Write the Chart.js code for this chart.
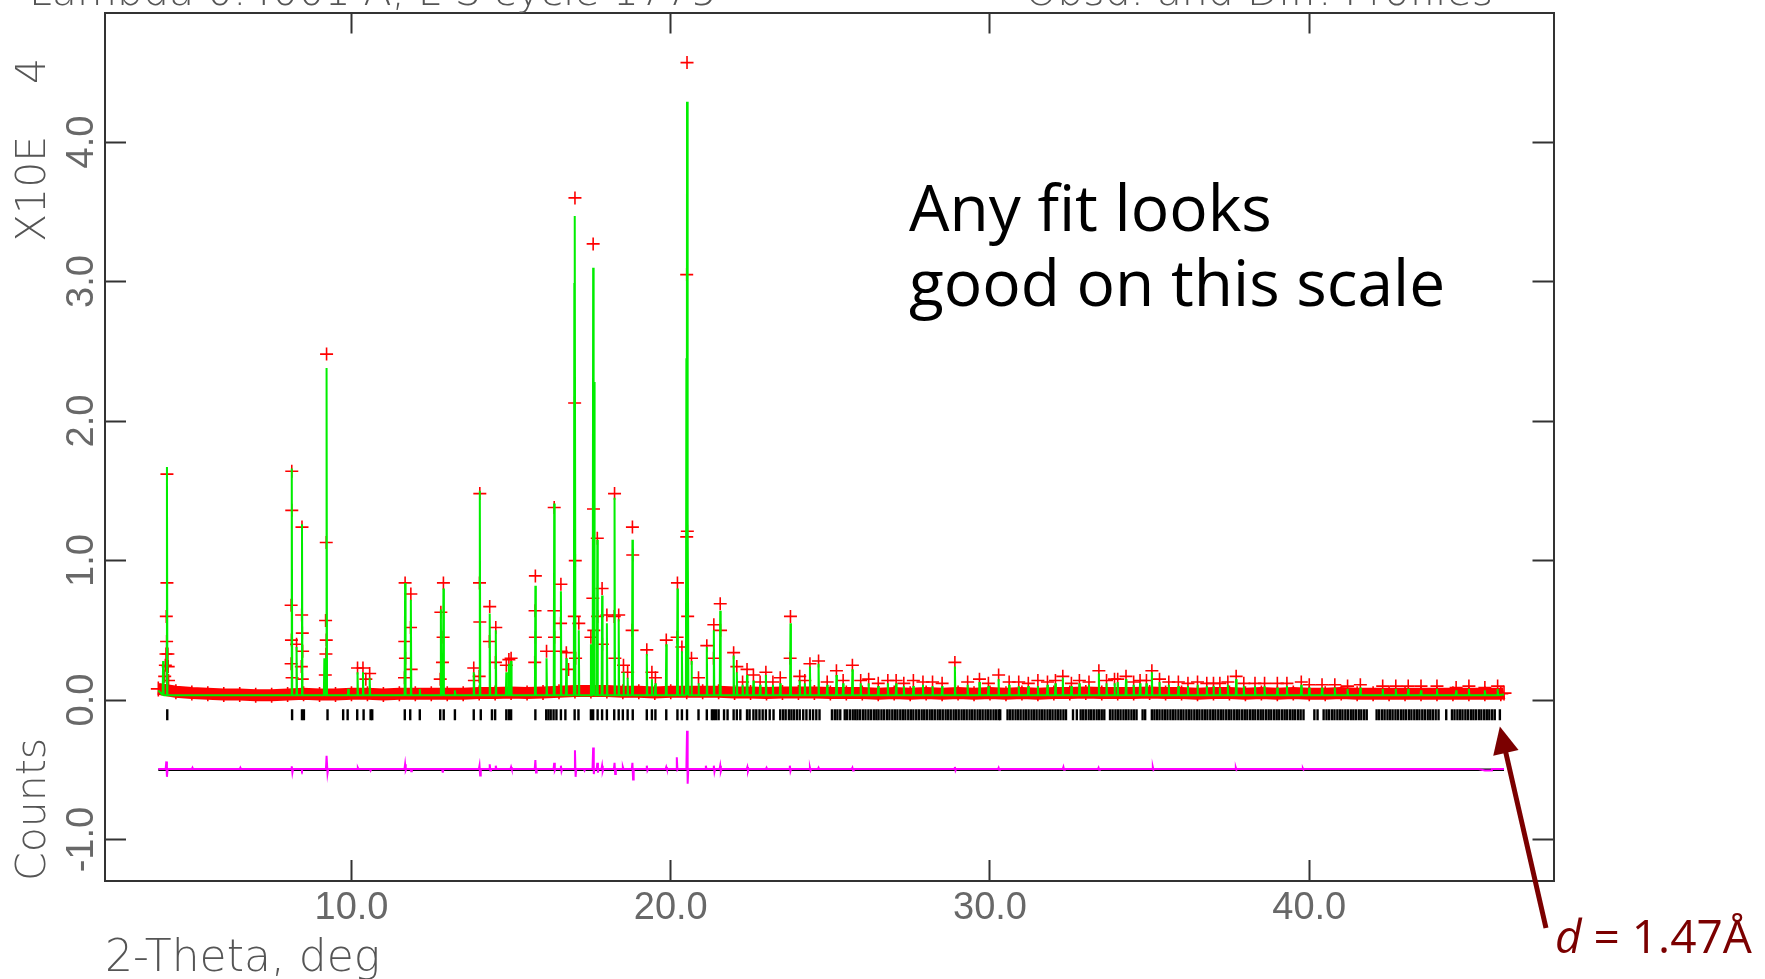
<!DOCTYPE html>
<html><head><meta charset="utf-8">
<script src="https://cdn.jsdelivr.net/npm/chart.js@4.4.1/dist/chart.umd.min.js"></script>
<style>html,body{margin:0;padding:0;background:#fff;overflow:hidden}canvas{display:block}</style>
</head><body>
<canvas id="c" width="1765" height="979"></canvas>
<script>
// ---------------- data (intensities in units of 10^4 counts) ----------------
const xTickValues = [10, 20, 30, 40];
const yTickValues = [-1, 0, 1, 2, 3, 4];

// observed points forming the dense background band [2-theta, counts]
const bandObs = [[3.95,0.08],[4.5,0.06],[5.0,0.05],[5.5,0.045],[6.0,0.04],[6.5,0.04],[7.0,0.035],[7.5,0.035],[8.0,0.04],[8.5,0.045],[9.0,0.04],[9.5,0.04],[10.0,0.045],[10.5,0.045],[11.0,0.04],[11.5,0.045],[12.0,0.045],[12.5,0.045],[13.0,0.045],[13.5,0.045],[14.0,0.05],[14.5,0.05],[15.0,0.055],[15.5,0.05],[16.0,0.055],[16.5,0.06],[17.0,0.065],[17.5,0.065],[18.0,0.065],[18.5,0.06],[19.0,0.06],[19.5,0.055],[20.0,0.06],[20.5,0.06],[21.0,0.06],[21.5,0.06],[22.0,0.055],[22.5,0.055],[23.0,0.05],[23.5,0.055],[24.0,0.055],[24.5,0.055],[25.0,0.05],[25.5,0.05],[26.0,0.05],[26.5,0.045],[27.0,0.05],[27.5,0.045],[28.0,0.05],[28.5,0.045],[29.0,0.05],[29.5,0.045],[30.0,0.05],[30.5,0.045],[31.0,0.05],[31.5,0.045],[32.0,0.05],[32.5,0.05],[33.0,0.055],[33.5,0.05],[34.0,0.05],[34.5,0.05],[35.0,0.055],[35.5,0.05],[36.0,0.05],[36.5,0.045],[37.0,0.05],[37.5,0.05],[38.0,0.045],[38.5,0.05],[39.0,0.045],[39.5,0.05],[40.0,0.045],[40.5,0.045],[41.0,0.05],[41.5,0.045],[42.0,0.045],[42.5,0.045],[43.0,0.045],[43.5,0.045],[44.0,0.045],[44.5,0.045],[45.0,0.045],[45.5,0.045],[46.0,0.045],[46.1,0.05]];

// observed points on the Bragg peaks [2-theta, counts]
const obsPeaks = [[4.22,1.62],[4.22,0.84],[4.20,0.60],[4.21,0.42],[4.19,0.33],[4.25,0.33],[4.17,0.25],[4.26,0.24],[4.15,0.17],[4.27,0.14],
[8.13,1.64],[8.13,1.36],[8.11,0.68],[8.12,0.43],[8.11,0.26],[8.14,0.16],[8.28,0.40],
[8.45,1.24],[8.44,0.61],[8.46,0.48],[8.47,0.35],[8.43,0.24],[8.46,0.15],
[9.22,2.48],[9.21,1.13],[9.19,0.57],[9.21,0.43],[9.20,0.33],[9.18,0.18],
[10.19,0.23],[10.36,0.23],[10.57,0.19],[10.45,0.15],
[11.68,0.84],[11.67,0.42],[11.69,0.30],[11.66,0.16],[11.86,0.76],[11.85,0.52],[11.87,0.22],
[12.80,0.63],[12.88,0.84],[12.87,0.45],[12.85,0.27],[12.78,0.15],[13.83,0.23],[13.85,0.14],
[14.02,1.48],[14.01,0.84],[14.02,0.56],[14.00,0.17],[14.33,0.67],[14.32,0.42],[14.52,0.52],[14.51,0.27],
[14.85,0.25],[14.93,0.29],[15.00,0.30],[15.76,0.89],[15.75,0.64],[15.76,0.45],[15.74,0.27],
[16.11,0.35],[16.35,1.38],[16.34,0.64],[16.36,0.45],[16.56,0.83],[16.55,0.55],[16.57,0.35],[16.73,0.34],[16.80,0.22],
[17.00,3.60],[16.99,2.13],[17.01,1.00],[16.98,0.60],[17.02,0.30],[17.12,0.55],[17.50,0.45],
[17.57,3.27],[17.58,1.37],[17.56,0.73],[17.59,0.50],[17.70,1.16],[17.71,0.60],[17.85,0.80],[17.86,0.40],
[18.00,0.61],[18.24,1.48],[18.23,0.60],[18.25,0.30],[18.37,0.61],[18.52,0.25],[18.65,0.20],
[18.80,1.24],[18.81,1.04],[18.79,0.50],[19.25,0.36],[19.41,0.20],[19.52,0.16],
[19.86,0.43],[20.21,0.84],[20.20,0.45],[20.35,0.38],
[20.51,4.57],[20.50,3.05],[20.52,1.21],[20.50,1.17],[20.53,0.60],
[20.65,0.30],[20.87,0.16],[21.13,0.39],[21.35,0.54],[21.34,0.30],[21.55,0.69],[21.56,0.50],
[21.97,0.34],[22.07,0.24],[22.25,0.13],[22.39,0.22],[22.59,0.18],[22.80,0.13],[22.98,0.20],[23.20,0.13],[23.43,0.16],
[23.75,0.60],[23.74,0.30],[24.04,0.17],[24.20,0.14],[24.36,0.26],[24.63,0.28],[24.90,0.13],[25.19,0.21],[25.40,0.14],
[25.69,0.25],[25.95,0.14],[26.20,0.15],[26.50,0.12],[26.80,0.14],[27.06,0.14],[27.30,0.12],[27.60,0.14],[27.90,0.13],
[28.20,0.13],[28.50,0.12],[28.90,0.27],[29.30,0.13],[29.67,0.15],[29.95,0.12],[30.27,0.18],[30.60,0.13],[30.90,0.13],
[31.20,0.12],[31.50,0.14],[31.80,0.13],[32.05,0.14],[32.28,0.17],[32.55,0.12],[32.80,0.14],[33.10,0.13],[33.41,0.21],
[33.65,0.14],[33.90,0.15],[34.00,0.15],[34.26,0.17],[34.50,0.13],[34.70,0.14],[34.90,0.14],[35.07,0.21],[35.31,0.15],
[35.60,0.13],[35.90,0.13],[36.20,0.12],[36.50,0.13],[36.79,0.12],[37.00,0.12],[37.20,0.12],[37.45,0.13],[37.71,0.17],
[37.95,0.12],[38.30,0.12],[38.60,0.12],[39.00,0.12],[39.30,0.12],[39.75,0.13],[40.00,0.11],[40.40,0.11],[40.80,0.11],
[41.20,0.10],[41.60,0.11],[42.30,0.10],[42.71,0.10],[43.10,0.10],[43.50,0.10],[44.00,0.10],[44.60,0.09],[45.00,0.10],
[45.50,0.09],[45.90,0.10]];

// calculated profile: background level, ends, and peak maxima [2-theta, counts]
const calcBackground = 0.035;
const calcEnds = [[3.95,0.07],[46.1,0.04]];
const calcPeaks = [[4.10,0.28],[4.22,1.67],[8.13,1.66],[8.28,0.38],[8.45,1.26],[9.15,0.30],[9.22,2.38],[9.90,0.08],
[10.19,0.20],[10.36,0.20],[10.57,0.16],[11.68,0.84],[11.86,0.72],[12.14,0.08],[12.80,0.65],[12.88,0.80],
[13.24,0.07],[13.83,0.20],[14.02,1.50],[14.33,0.62],[14.52,0.50],[14.85,0.20],[14.93,0.26],[15.00,0.28],
[15.76,0.82],[16.11,0.30],[16.35,1.41],[16.56,0.78],[16.73,0.30],[16.98,2.99],[17.00,3.47],[17.12,0.50],
[17.50,0.40],[17.57,3.10],[17.60,2.28],[17.70,1.15],[17.85,0.75],[18.00,0.55],[18.24,1.45],[18.37,0.58],
[18.52,0.20],[18.65,0.16],[18.80,1.15],[19.25,0.33],[19.41,0.15],[19.52,0.12],[19.86,0.40],[20.21,0.80],
[20.35,0.35],[20.49,2.45],[20.51,4.29],[20.54,1.30],[20.65,0.28],[20.87,0.12],[21.13,0.38],[21.35,0.50],
[21.55,0.64],[21.97,0.32],[22.07,0.20],[22.25,0.11],[22.39,0.18],[22.59,0.14],[22.80,0.11],[22.98,0.18],[23.20,0.11],
[23.43,0.12],[23.75,0.55],[24.04,0.14],[24.20,0.12],[24.36,0.24],[24.63,0.26],[24.90,0.11],[25.19,0.18],[25.40,0.12],
[25.69,0.22],[25.95,0.12],[26.20,0.12],[26.50,0.10],[26.80,0.12],[27.06,0.12],[27.30,0.10],[27.60,0.10],[27.90,0.11],
[28.20,0.10],[28.50,0.10],[28.90,0.24],[29.30,0.11],[29.67,0.13],[29.95,0.10],[30.27,0.15],[30.60,0.11],[30.90,0.10],
[31.20,0.10],[31.50,0.10],[31.80,0.11],[32.05,0.12],[32.28,0.16],[32.55,0.10],[32.80,0.12],[33.10,0.11],[33.41,0.19],
[33.65,0.12],[33.90,0.12],[34.00,0.13],[34.26,0.15],[34.50,0.11],[34.70,0.12],[34.90,0.12],[35.07,0.20],[35.31,0.13],
[35.60,0.11],[35.90,0.10],[36.20,0.10],[36.50,0.11],[36.79,0.10],[37.00,0.10],[37.20,0.09],[37.45,0.11],[37.71,0.15],
[37.95,0.10],[38.30,0.10],[38.60,0.10],[39.00,0.09],[39.30,0.10],[39.75,0.11],[40.00,0.09],[40.40,0.09],[40.80,0.09],
[41.20,0.08],[41.60,0.09],[42.30,0.08],[42.71,0.08],[43.10,0.08],[43.50,0.07],[44.00,0.08],[44.60,0.07],[45.00,0.08],
[45.50,0.07],[45.90,0.08]];

// difference curve (obs - calc, offset) [2-theta, counts]
const diffZero = -0.50;
const diffCurve = [[3.95,-0.495],[4.18,-0.495],[4.20,-0.44],[4.22,-0.55],[4.24,-0.495],
[5.0,-0.495],[5.02,-0.485],[5.04,-0.495],[6.5,-0.495],[6.52,-0.485],[6.54,-0.495],
[8.11,-0.495],[8.13,-0.475],[8.15,-0.52],[8.17,-0.495],[8.43,-0.495],[8.45,-0.505],[8.47,-0.495],
[9.20,-0.495],[9.22,-0.40],[9.25,-0.525],[9.27,-0.495],[10.18,-0.495],[10.2,-0.485],[10.22,-0.495],
[10.58,-0.495],[10.6,-0.505],[10.62,-0.495],[11.66,-0.495],[11.68,-0.46],[11.70,-0.505],[11.72,-0.495],
[11.85,-0.495],[11.87,-0.51],[11.89,-0.495],[12.84,-0.495],[12.86,-0.52],[12.88,-0.495],
[13.99,-0.495],[14.01,-0.47],[14.03,-0.54],[14.05,-0.495],[14.31,-0.495],[14.33,-0.46],[14.35,-0.505],[14.37,-0.495],
[14.50,-0.495],[14.52,-0.47],[14.54,-0.495],[14.98,-0.495],[15.0,-0.48],[15.02,-0.495],
[15.74,-0.495],[15.76,-0.43],[15.78,-0.52],[15.80,-0.495],[16.33,-0.495],[16.35,-0.45],[16.37,-0.505],[16.39,-0.495],
[16.54,-0.495],[16.56,-0.47],[16.58,-0.51],[16.60,-0.495],[16.98,-0.495],[17.00,-0.36],[17.02,-0.55],[17.04,-0.495],
[17.28,-0.495],[17.30,-0.505],[17.32,-0.495],[17.55,-0.495],[17.57,-0.34],[17.59,-0.53],[17.61,-0.495],
[17.68,-0.495],[17.70,-0.45],[17.72,-0.52],[17.74,-0.495],[17.83,-0.495],[17.85,-0.47],[17.87,-0.51],[17.89,-0.495],
[18.22,-0.495],[18.24,-0.45],[18.26,-0.53],[18.28,-0.495],[18.48,-0.495],[18.5,-0.48],[18.52,-0.495],
[18.78,-0.495],[18.80,-0.45],[18.82,-0.57],[18.84,-0.495],[19.23,-0.495],[19.25,-0.47],[19.27,-0.505],[19.29,-0.495],
[19.84,-0.495],[19.86,-0.48],[19.88,-0.495],[20.17,-0.495],[20.19,-0.41],[20.21,-0.50],[20.23,-0.495],
[20.49,-0.495],[20.51,-0.22],[20.53,-0.60],[20.55,-0.495],[21.08,-0.495],[21.1,-0.47],[21.12,-0.495],
[21.33,-0.495],[21.35,-0.47],[21.37,-0.515],[21.39,-0.495],[21.53,-0.495],[21.55,-0.47],[21.57,-0.51],[21.59,-0.495],
[22.38,-0.495],[22.4,-0.48],[22.42,-0.51],[22.44,-0.495],[22.98,-0.495],[23.0,-0.485],[23.02,-0.495],
[23.71,-0.495],[23.73,-0.47],[23.75,-0.51],[23.77,-0.495],[24.34,-0.495],[24.36,-0.485],[24.38,-0.505],[24.40,-0.495],
[24.61,-0.495],[24.63,-0.485],[24.65,-0.495],[25.67,-0.495],[25.69,-0.485],[25.71,-0.505],[25.73,-0.495],
[28.88,-0.495],[28.9,-0.48],[28.92,-0.505],[28.94,-0.495],[30.25,-0.495],[30.27,-0.485],[30.29,-0.5],[30.31,-0.495],
[32.28,-0.495],[32.3,-0.48],[32.32,-0.5],[32.34,-0.495],[33.38,-0.495],[33.4,-0.485],[33.42,-0.5],[33.44,-0.495],
[35.08,-0.495],[35.1,-0.48],[35.12,-0.5],[35.14,-0.495],[37.68,-0.495],[37.7,-0.485],[37.72,-0.5],[37.74,-0.495],
[39.78,-0.495],[39.8,-0.49],[39.82,-0.5],[39.84,-0.495],[45.3,-0.495],[45.5,-0.505],[45.7,-0.505],[45.72,-0.495],[46.1,-0.495]];

// reflection (hkl) positions, 2-theta
const reflTheta = [4.23,8.14,8.45,8.51,9.25,9.74,9.88,10.18,10.38,10.60,10.65,11.67,11.84,12.14,12.78,12.89,13.24,13.83,14.05,
14.40,14.50,14.85,14.93,15.00,15.76,16.10,16.17,16.24,16.33,16.42,16.56,16.70,16.99,17.11,17.50,17.57,17.71,17.85,18.00,
18.23,18.37,18.50,18.65,18.81,19.25,19.41,19.52,19.86,20.21,20.35,20.51,20.87,21.13,21.29,21.35,21.42,21.50,21.67,21.78,
21.97,22.07,22.18,22.39,22.47,22.59,22.68,22.78,22.88,22.98,23.10,23.22,23.43,23.52,23.60,23.70,23.78,23.86,23.95,24.04,
24.15,24.25,24.36,24.46,24.56,24.66,25.05,25.14,25.22,25.31,25.45,25.52,25.61,25.70,25.78,25.85,25.93,26.02,26.10,26.19,
26.27,26.36,26.44,26.51,26.60,26.68,26.77,26.85,26.94,27.02,27.10,27.19,27.27,27.35,27.44,27.52,27.60,27.69,27.77,27.86,
27.94,28.02,28.11,28.19,28.27,28.36,28.44,28.52,28.61,28.69,28.77,28.86,28.94,29.02,29.11,29.19,29.27,29.36,29.44,29.52,
29.61,29.69,29.77,29.86,29.94,30.02,30.11,30.19,30.27,30.32,30.55,30.63,30.71,30.80,30.88,30.96,31.05,31.13,31.21,31.30,
31.38,31.46,31.55,31.63,31.71,31.80,31.88,31.96,32.05,32.13,32.21,32.30,32.38,32.60,32.72,32.84,32.92,33.00,33.09,33.17,
33.25,33.34,33.42,33.50,33.58,33.76,33.84,33.93,34.01,34.09,34.18,34.26,34.34,34.43,34.51,34.59,34.78,34.86,35.07,35.15,
35.23,35.31,35.40,35.48,35.56,35.65,35.73,35.81,35.90,35.98,36.06,36.15,36.23,36.31,36.40,36.48,36.56,36.65,36.73,36.81,
36.90,36.98,37.06,37.15,37.23,37.31,37.40,37.48,37.56,37.65,37.73,37.81,37.90,37.98,38.06,38.15,38.23,38.31,38.40,38.48,
38.56,38.65,38.73,38.81,38.90,38.98,39.06,39.15,39.23,39.31,39.40,39.48,39.56,39.65,39.73,39.82,40.16,40.26,40.45,40.54,
40.62,40.71,40.79,40.88,40.96,41.04,41.13,41.21,41.30,41.38,41.46,41.55,41.63,41.72,41.80,42.11,42.19,42.28,42.36,42.45,
42.53,42.61,42.70,42.78,42.87,42.95,43.03,43.12,43.20,43.29,43.37,43.45,43.54,43.62,43.71,43.79,43.87,43.96,44.05,44.29,
44.47,44.55,44.64,44.72,44.80,44.89,44.97,45.06,45.14,45.22,45.31,45.39,45.48,45.56,45.64,45.73,45.81,45.97];
const reflRowLevel = -0.105;

// ---------------- styling constants ----------------
const TICK_FONT = {family: "'Liberation Sans Narrow', 'Liberation Sans', sans-serif", size: 38, lineHeight: 1};
const YTITLE_FONT = {family: "'DejaVu Sans', sans-serif", size: 41, weight: '200', lineHeight: 1};
const XTITLE_FONT = {family: "'DejaVu Sans', sans-serif", size: 44, weight: '200', lineHeight: 1};
const LABEL_GRAY = '#555555';
const TICK_GRAY = '#686868';
const FRAME = '#333333';
const X_RANGE = [2.28, 47.65];
const Y_RANGE = [-1.297, 4.929];

const toXY = a => ({x: a[0], y: a[1]});
const calcLine = [toXY(calcEnds[0])];
calcPeaks.forEach(p => {
  calcLine.push({x: p[0] - 0.015, y: calcBackground}, {x: p[0], y: p[1]}, {x: p[0] + 0.015, y: calcBackground});
});
calcLine.push(toXY(calcEnds[1]));

function setTicks(vals) { return s => { s.ticks = vals.map(v => ({value: v})); }; }
function fixSize(dim, val) {
  return s => { s[dim] = val; s.paddingTop = 0; s.paddingBottom = 0; s.paddingLeft = 0; s.paddingRight = 0; };
}
const gridOpts = {drawOnChartArea: false, drawTicks: true, tickLength: -21, tickColor: FRAME, tickWidth: 2};
const borderOpts = {display: true, color: FRAME, width: 2};

const annotations = {
  id: 'annotations',
  afterDraw(chart) {
    const ctx = chart.ctx;
    const xs = chart.scales.x, ys = chart.scales.y;
    ctx.save();
    // cut-off header line
    ctx.fillStyle = LABEL_GRAY;
    ctx.font = "200 41px 'DejaVu Sans', sans-serif";
    ctx.textBaseline = 'alphabetic';
    ctx.textAlign = 'left';
    ctx.fillText('Lambda 0.4001 A, L-S cycle 1775', 29, 5);
    ctx.fillText('Obsd. and Diff. Profiles', 1025, 5);
    // X10E 4 (rotated)
    ctx.save();
    ctx.translate(34, 242);
    ctx.rotate(-Math.PI / 2);
    ctx.textBaseline = 'middle';
    ctx.fillText('X10E', 0, 0);
    ctx.fillText('4', 158, 0);
    ctx.restore();
    // comment text
    ctx.fillStyle = '#000000';
    ctx.font = "64px 'Open Sans', sans-serif";
    ctx.fillText('Any fit looks', 909, 231);
    ctx.fillText('good on this scale', 909, 306);
    // arrow to last reflection
    const tipX = xs.getPixelForValue(45.97), tipY = ys.getPixelForValue(-0.19);
    const tailX = 1546, tailY = 928;
    const dx = tipX - tailX, dy = tipY - tailY, L = Math.hypot(dx, dy);
    const ux = dx / L, uy = dy / L, nx = -uy, ny = ux;
    const hl = 27, hw = 13;
    const bx = tipX - ux * hl, by = tipY - uy * hl;
    ctx.strokeStyle = '#7b0000';
    ctx.fillStyle = '#7b0000';
    ctx.lineWidth = 5;
    ctx.beginPath(); ctx.moveTo(tailX, tailY); ctx.lineTo(bx + ux * 2, by + uy * 2); ctx.stroke();
    ctx.beginPath(); ctx.moveTo(tipX, tipY); ctx.lineTo(bx + nx * hw, by + ny * hw); ctx.lineTo(bx - nx * hw, by - ny * hw); ctx.closePath(); ctx.fill();
    // d = 1.47 Å
    ctx.font = "italic 46px 'Open Sans', sans-serif";
    ctx.fillText('d', 1555, 953);
    const w = ctx.measureText('d').width;
    ctx.font = "46px 'Open Sans', sans-serif";
    ctx.fillText(' = 1.47Å', 1555 + w, 953);
    ctx.restore();
  }
};

new Chart(document.getElementById('c'), {
  type: 'scatter',
  data: {
    datasets: [
      {label: 'Observed (background)', data: bandObs.map(toXY), showLine: true, borderColor: '#ff0000', borderWidth: 12,
       pointStyle: 'cross', pointRadius: 7.5, pointBorderWidth: 1.6, pointBorderColor: '#ff0000', order: 5},
      {label: 'Observed', data: obsPeaks.map(toXY), showLine: false, pointStyle: 'cross', pointRadius: 6.5,
       pointBorderWidth: 1.6, pointBorderColor: '#ff0000', pointBackgroundColor: '#ff0000', order: 4},
      {label: 'Calculated', data: calcLine, showLine: true, borderColor: '#00ee00', borderWidth: 2, pointRadius: 0,
       borderJoinStyle: 'bevel', order: 3},
      {label: 'Reflections', data: reflTheta.map(t => ({x: t, y: reflRowLevel})), showLine: false, pointStyle: 'line',
       pointRotation: 90, pointRadius: 5.5, pointBorderWidth: 2.4, pointBorderColor: '#000000', order: 2},
      {label: 'Difference zero', data: [{x: diffCurve[0][0], y: diffZero}, {x: diffCurve[diffCurve.length - 1][0], y: diffZero}],
       showLine: true, borderColor: '#000000', borderWidth: 2.5, pointRadius: 0, order: 1},
      {label: 'Difference', data: diffCurve.map(toXY), showLine: true, borderColor: '#ff00ff', borderWidth: 2,
       pointRadius: 0, order: 0}
    ]
  },
  options: {
    responsive: false,
    devicePixelRatio: 1,
    animation: false,
    events: [],
    layout: {padding: 0},
    plugins: {legend: {display: false}, tooltip: {enabled: false}, title: {display: false}},
    scales: {
      x: {type: 'linear', position: 'bottom', min: X_RANGE[0], max: X_RANGE[1],
          afterBuildTicks: setTicks(xTickValues), afterFit: fixSize('height', 98),
          grid: gridOpts, border: borderOpts,
          ticks: {padding: 30, color: TICK_GRAY, font: TICK_FONT, minRotation: 0, maxRotation: 0, autoSkip: false,
                  callback: v => Number(v).toFixed(1)},
          title: {display: true, text: '2-Theta, deg', align: 'start', color: LABEL_GRAY, font: XTITLE_FONT,
                  padding: {top: 0, bottom: -3}}},
      x2: {type: 'linear', position: 'top', min: X_RANGE[0], max: X_RANGE[1],
           afterBuildTicks: setTicks(xTickValues), afterFit: fixSize('height', 12.5),
           grid: gridOpts, border: borderOpts, ticks: {display: false}},
      y: {type: 'linear', position: 'left', min: Y_RANGE[0], max: Y_RANGE[1],
          afterBuildTicks: setTicks(yTickValues), afterFit: fixSize('width', 105),
          grid: gridOpts, border: borderOpts,
          ticks: {padding: 10.5, color: TICK_GRAY, font: TICK_FONT, minRotation: 90, maxRotation: 90,
                  crossAlign: 'center', autoSkip: false, callback: v => Number(v).toFixed(1)},
          title: {display: true, text: 'Counts', align: 'start', color: LABEL_GRAY, font: YTITLE_FONT,
                  padding: {top: 13.5, bottom: 0}}},
      y2: {type: 'linear', position: 'right', min: Y_RANGE[0], max: Y_RANGE[1],
           afterBuildTicks: setTicks(yTickValues), afterFit: fixSize('width', 211.5),
           grid: gridOpts, border: borderOpts, ticks: {display: false}}
    }
  },
  plugins: [annotations]
});
</script>
</body></html>
